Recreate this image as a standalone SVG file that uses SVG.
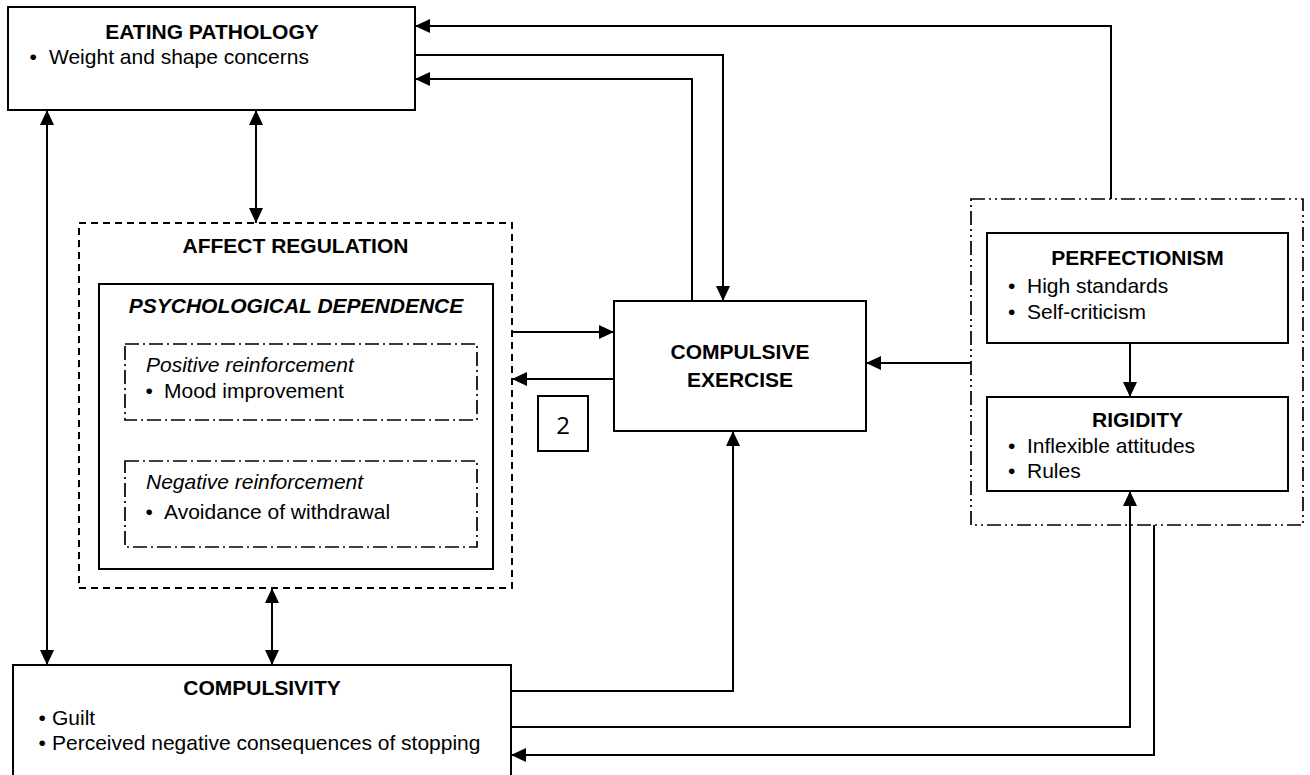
<svg xmlns="http://www.w3.org/2000/svg" width="1310" height="775" viewBox="0 0 1310 775">
<defs>
<marker id="ah" viewBox="0 0 15 14" refX="15" refY="7" markerWidth="15" markerHeight="14" markerUnits="userSpaceOnUse" orient="auto-start-reverse">
<path d="M0,0 L15,7 L0,14 z" fill="#000"/>
</marker>
<style>
.box{fill:#fff;stroke:#000;stroke-width:2}
.dash{fill:none;stroke:#000;stroke-width:2;stroke-dasharray:7 5}
.dd{fill:none;stroke:#000;stroke-width:1.7;stroke-dasharray:14 4 2 4}
.ddd{fill:none;stroke:#000;stroke-width:1.7;stroke-dasharray:14 4 2 4 2 4}
.c{fill:none;stroke:#000;stroke-width:2}
.a{marker-end:url(#ah)}
.b{marker-start:url(#ah);marker-end:url(#ah)}
text{font-family:"Liberation Sans",Arial,sans-serif;font-size:21px;fill:#000}
.t{font-weight:bold;text-anchor:middle}
.ti{font-weight:bold;font-style:italic;text-anchor:middle}
.i{font-style:italic}
</style>
</defs>
<rect width="1310" height="775" fill="#fff"/>
<g id="eating-pathology">
<rect class="box" x="8" y="7" width="407" height="103"/>
<text class="t" x="212" y="39">EATING PATHOLOGY</text>
<text x="29.5" y="64">•</text><text x="49" y="64">Weight and shape concerns</text>
</g>
<g id="affect-regulation">
<rect class="dash" x="79" y="223" width="433" height="365"/>
<text class="t" x="295.5" y="253">AFFECT REGULATION</text>
</g>
<g id="psychological-dependence">
<rect class="box" x="99" y="284" width="394" height="285"/>
<text class="ti" x="296" y="313">PSYCHOLOGICAL DEPENDENCE</text>
</g>
<g id="positive-reinforcement">
<rect class="dd" x="125" y="344" width="352" height="76"/>
<text class="i" x="146" y="372">Positive reinforcement</text>
<text x="145.5" y="398">•</text><text x="164" y="398">Mood improvement</text>
</g>
<g id="negative-reinforcement">
<rect class="dd" x="125" y="461" width="352" height="86"/>
<text class="i" x="146" y="489">Negative reinforcement</text>
<text x="145.5" y="519">•</text><text x="164" y="519">Avoidance of withdrawal</text>
</g>
<g id="compulsive-exercise">
<rect class="box" x="614" y="301" width="252" height="130"/>
<text class="t" x="740" y="359">COMPULSIVE</text>
<text class="t" x="740" y="387">EXERCISE</text>
</g>
<g id="label-2">
<rect class="box" x="538" y="396" width="50" height="55"/>
<text x="563" y="434" style="font-family:'Open Sans',sans-serif;font-size:24px;text-anchor:middle">2</text>
</g>
<g id="perfectionism-group">
<rect class="ddd" x="971" y="199" width="332" height="326"/>
</g>
<g id="perfectionism">
<rect class="box" x="987" y="233" width="301" height="110"/>
<text class="t" x="1137.5" y="265">PERFECTIONISM</text>
<text x="1008" y="293">•</text><text x="1027" y="293">High standards</text>
<text x="1008" y="319">•</text><text x="1027" y="319">Self-criticism</text>
</g>
<g id="rigidity">
<rect class="box" x="987" y="397" width="301" height="94"/>
<text class="t" x="1137.5" y="427">RIGIDITY</text>
<text x="1008" y="453">•</text><text x="1027" y="453">Inflexible attitudes</text>
<text x="1008" y="478">•</text><text x="1027" y="478">Rules</text>
</g>
<g id="compulsivity">
<rect class="box" x="13" y="665" width="498" height="130"/>
<text class="t" x="262" y="695">COMPULSIVITY</text>
<text x="38.5" y="725">•</text><text x="52" y="725">Guilt</text>
<text x="38.5" y="750">•</text><text x="52" y="750">Perceived negative consequences of stopping</text>
</g>
<g id="connectors">
<polyline class="c a" points="1111,199 1111,26 415,26"/>
<polyline class="c a" points="415,55 723,55 723,301"/>
<polyline class="c a" points="692,301 692,79 415,79"/>
<line class="c b" x1="256" y1="110" x2="256" y2="223"/>
<line class="c b" x1="47" y1="110" x2="47" y2="665"/>
<line class="c b" x1="272" y1="588" x2="272" y2="665"/>
<line class="c a" x1="512" y1="332" x2="614" y2="332"/>
<line class="c a" x1="614" y1="379" x2="512" y2="379"/>
<line class="c a" x1="971" y1="363" x2="866" y2="363"/>
<line class="c a" x1="1130" y1="343" x2="1130" y2="397"/>
<polyline class="c a" points="511,691 733,691 733,431"/>
<polyline class="c a" points="511,727 1130,727 1130,491"/>
<polyline class="c a" points="1154,525 1154,755 511,755"/>
</g>
</svg>
